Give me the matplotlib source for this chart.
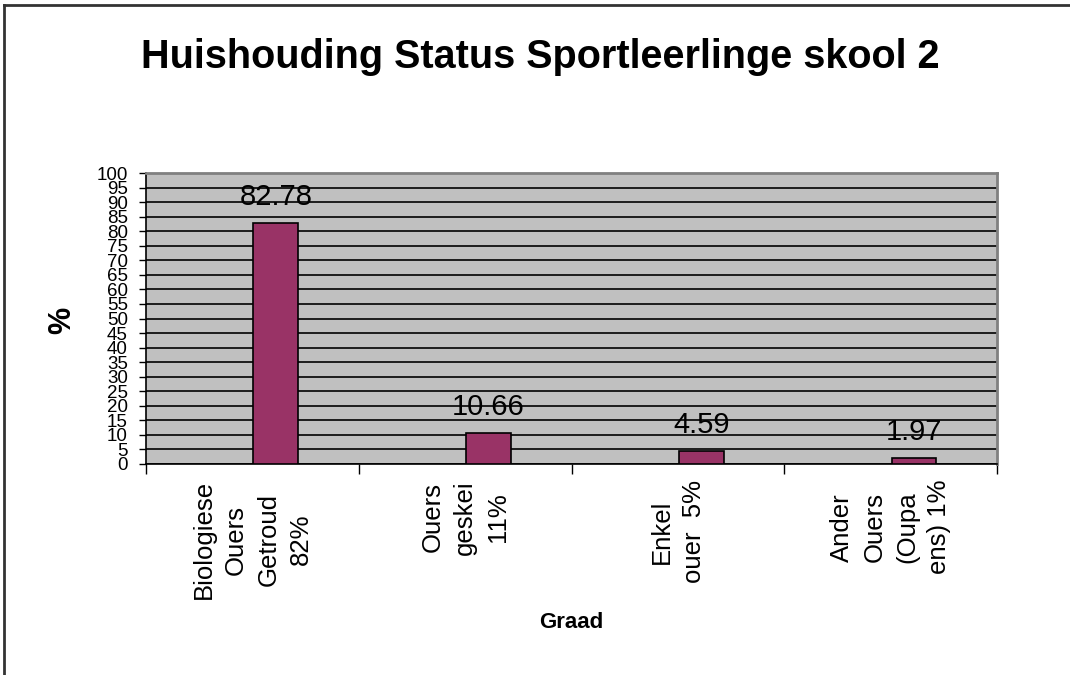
import matplotlib.pyplot as plt
from matplotlib.lines import Line2D

plt.rcParams['font.family'] = ['Liberation Sans', 'DejaVu Sans']

# data
kategorieë = ["Biologiese\nOuers\nGetroud\n82%", "Ouers\ngeskei\n11%",
              "Enkel\nouer  5%", "Ander\nOuers\n(Oupa\nens) 1%"]
persentasie = [82.78, 10.66, 4.59, 1.97]
y_merke = list(range(0, 101, 5))

fig = plt.figure(figsize=(10.7, 6.75), dpi=100)
ax = fig.add_axes([146/1070, 1 - 464/675, (997 - 146)/1070, (464 - 173)/675])
ax.set_facecolor('#c0c0c0')

# bars sit right of centre in each category
x = [i + 0.61 for i in range(len(persentasie))]
ax.bar(x, persentasie, width=0.21, color='#993366', edgecolor='black', linewidth=1.2, zorder=3)

for xi, v in zip(x, persentasie):
    ax.annotate(f"{v:.2f}", xy=(xi, v), xytext=(0, 12), textcoords='offset pixels',
                ha='center', va='bottom', fontsize=21)

ax.set_xlim(0, len(persentasie))
ax.set_ylim(0, 100)
ax.set_yticks(y_merke)
ax.set_yticklabels([str(t) for t in y_merke], fontsize=13.5)
ax.yaxis.grid(True, color='black', linewidth=1.2)
ax.set_axisbelow(True)
ax.tick_params(axis='y', direction='out', length=5, width=1, pad=8)

ax.set_xticks(range(len(persentasie) + 1))
ax.set_xticklabels([])
ax.tick_params(axis='x', direction='out', length=7, width=1)

for i, lab in enumerate(kategorieë):
    ax.annotate(lab, xy=(i + 0.5, 0), xycoords=('data', 'axes fraction'),
                xytext=(0, -16), textcoords='offset pixels', rotation=90,
                ha='center', va='top', multialignment='center',
                fontsize=18.5, linespacing=1.45)

for s in ['left', 'bottom']:
    ax.spines[s].set_color('black')
    ax.spines[s].set_linewidth(1.2)
for s in ['top', 'right']:
    ax.spines[s].set_color('#808080')
    ax.spines[s].set_linewidth(2)

fig.text(540/1070, 1 - 57/675, "Huishouding Status Sportleerlinge skool 2",
         ha='center', va='center', fontsize=28.5, fontweight='bold')
fig.text(62/1070, 1 - 320/675, "%", rotation=90, ha='center', va='center',
         fontsize=22, fontweight='bold')
fig.text(571/1070, 1 - 622/675, "Graad", ha='center', va='center',
         fontsize=16, fontweight='bold')

# outer chart border (left and top only)
fig.add_artist(Line2D([4/1070, 4/1070], [0, 1 - 5/675], color='#333333', linewidth=2))
fig.add_artist(Line2D([4/1070, 1], [1 - 5/675, 1 - 5/675], color='#333333', linewidth=2))

fig.savefig('out.png', dpi=100)
